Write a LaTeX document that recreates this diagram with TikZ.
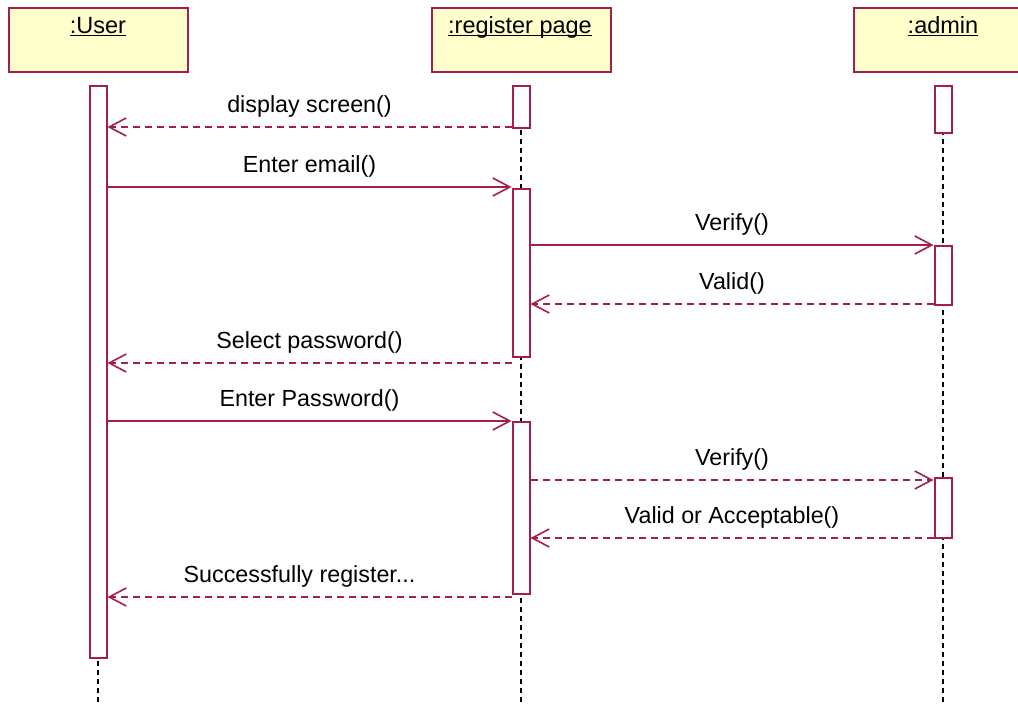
\documentclass[tikz,border=0pt]{standalone}
\usepackage{fontspec}
\setmainfont{Liberation Sans}
\usetikzlibrary{arrows.meta}
\definecolor{umlline}{RGB}{165,30,75}
\definecolor{umlfill}{RGB}{255,255,204}
\tikzset{
  hdr/.style={draw=umlline, fill=umlfill, line width=2pt, minimum width=179pt, minimum height=64pt, anchor=north west, inner sep=0pt},
  hdrtext/.style={inner sep=0pt, anchor=base, font=\fontsize{23.5}{26}\selectfont},
  uline/.style={draw=black, line width=1.3pt},
  actbox/.style={draw=umlline, fill=white, line width=2pt, minimum width=17pt, inner sep=0pt, anchor=north},
  lifeline/.style={draw=black, line width=2pt, dash pattern=on 5pt off 4pt},
  msg/.style={draw=umlline, line width=1.6pt, -{Straight Barb[length=17pt,width=18pt,line width=1.6pt]}},
  reply/.style={msg, dash pattern=on 7pt off 5pt},
  lbl/.style={inner sep=0pt, font=\fontsize{23.3}{26}\selectfont, anchor=base, text=black, yshift=15pt}
}
\begin{document}
\begin{tikzpicture}[x=1pt,y=-1pt]
\useasboundingbox (0,0) rectangle (1018,704);
\clip (0,0) rectangle (1018,704);
% headers
\node[hdr] (user) at (8,7) {};
\node[hdr] (reg) at (431,7) {};
\node[hdr] (adm) at (853,7) {};
\node[hdrtext] (userT) at (98,33) {:User};
\node[hdrtext] (regT) at (520,33) {:register page};
\node[hdrtext] (admT) at (943,33) {:admin};
\draw[uline] ([yshift=-2.5pt]userT.base west) -- ([yshift=-2.5pt]userT.base east);
\draw[uline] ([yshift=-2.5pt]regT.base west) -- ([yshift=-2.5pt]regT.base east);
\draw[uline] ([yshift=-2.5pt]admT.base west) -- ([yshift=-2.5pt]admT.base east);
% lifelines
\coordinate (uEnd) at (98,704);
\coordinate (rEnd) at (521,704);
\coordinate (aEnd) at (943,704);
\coordinate (uTop) at (98,85);
\coordinate (rTop) at (521,85);
\coordinate (aTop) at (943,85);
\draw[lifeline] (uTop) -- (uEnd);
\draw[lifeline] (rTop) -- (rEnd);
\draw[lifeline] (aTop) -- (aEnd);
% activations
\node[actbox, minimum height=572pt] (ua) at (98,85) {};
\node[actbox, minimum height=42pt] (ra1) at (521,85) {};
\node[actbox, minimum height=168pt] (ra2) at (521,188) {};
\node[actbox, minimum height=172pt] (ra3) at (521,421) {};
\node[actbox, minimum height=47pt] (aa1) at (943,85) {};
\node[actbox, minimum height=59pt] (aa2) at (943,245) {};
\node[actbox, minimum height=60pt] (aa3) at (943,477) {};
% messages
\draw[reply] (ra1.west |- 0,127) -- node[lbl]{display screen()} (ua.east |- 0,127);
\draw[msg] (ua.east |- 0,187) -- node[lbl]{Enter email()} (ra2.west |- 0,187);
\draw[msg] (ra2.east |- 0,245) -- node[lbl]{Verify()} (aa2.west |- 0,245);
\draw[reply] (aa2.west |- 0,304) -- node[lbl]{Valid()} (ra2.east |- 0,304);
\draw[reply] (ra2.west |- 0,363) -- node[lbl]{Select password()} (ua.east |- 0,363);
\draw[msg] (ua.east |- 0,421) -- node[lbl]{Enter Password()} (ra3.west |- 0,421);
\draw[reply] (ra3.east |- 0,480) -- node[lbl]{Verify()} (aa3.west |- 0,480);
\draw[reply] (aa3.west |- 0,538) -- node[lbl]{Valid or Acceptable()} (ra3.east |- 0,538);
\draw[reply] (ra3.west |- 0,597) -- node[lbl, xshift=-10pt]{Successfully register...} (ua.east |- 0,597);
\end{tikzpicture}
\end{document}
